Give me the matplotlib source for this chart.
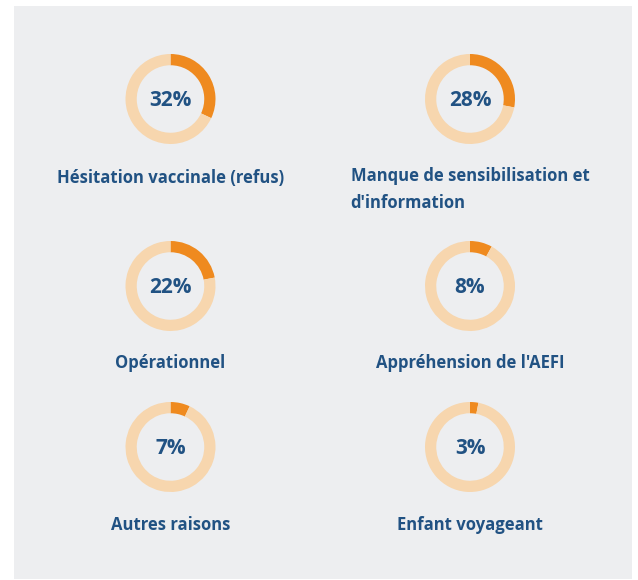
import matplotlib
matplotlib.use("Agg")
import matplotlib.pyplot as plt
from matplotlib.patches import Rectangle

labels = ["Hésitation vaccinale (refus)",
          "Manque de sensibilisation et\nd'information",
          "Opérationnel",
          "Appréhension de l'AEFI",
          "Autres raisons",
          "Enfant voyageant"]
values = [32, 28, 22, 8, 7, 3]

W, H = 638, 580
ORANGE = "#EF8A1F"
LIGHT = "#F7D6AE"
NAVY = "#215283"
BG = "#EDEEF0"

plt.rcParams['font.family'] = ['Open Sans', 'DejaVu Sans']

fig = plt.figure(figsize=(W / 100, H / 100), dpi=100)
fig.patch.set_facecolor("white")
fig.patches.append(Rectangle((14 / W, 1 - 579 / H), (632 - 14) / W, (579 - 6) / H,
                             transform=fig.transFigure, facecolor=BG, edgecolor="none", zorder=-5))

col_x = [170.5, 470]
row_y = [99, 286, 447]
label_y = [[176, 188], [362, 362], [524, 524]]
R = 45

for i, (lab, v) in enumerate(zip(labels, values)):
    r, c = divmod(i, 2)
    cx, cy = col_x[c], row_y[r]
    ax = fig.add_axes([(cx - R) / W, 1 - (cy + R) / H, 2 * R / W, 2 * R / H])
    ax.set_zorder(2)
    ax.pie([v, 100 - v], colors=[ORANGE, LIGHT], startangle=90, counterclock=False,
           radius=1, wedgeprops=dict(width=0.25, edgecolor="none"))
    ax.set_xlim(-1, 1)
    ax.set_ylim(-1, 1)
    ax.set_aspect("equal")
    ax.axis("off")
    ax.text(0, -0.04, f"{v}%", ha="center", va="center", fontsize=15,
            fontweight="bold", color=NAVY)
    ly = label_y[r][c] + 1.5
    fig.text(cx / W, 1 - ly / H, lab, ha="center", va="center", fontsize=12,
             fontweight="bold", color=NAVY, multialignment="left", linespacing=1.6,
             zorder=3)

fig.savefig("out.png", dpi=100, facecolor=fig.get_facecolor())
